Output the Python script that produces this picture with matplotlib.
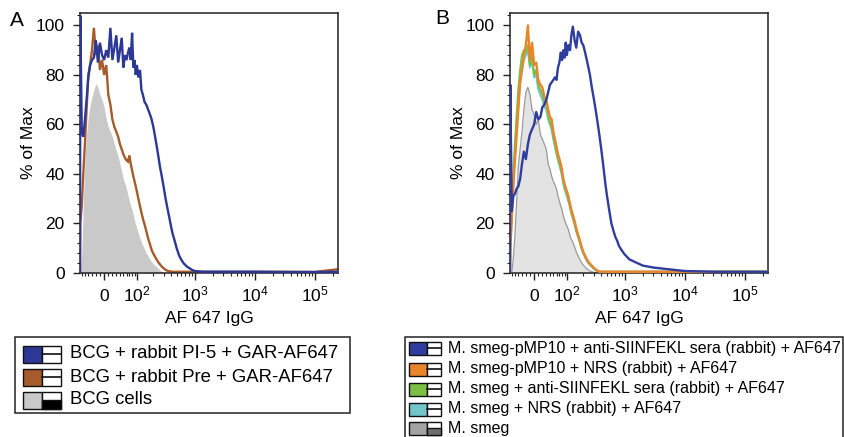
import numpy as np
import matplotlib
matplotlib.use("Agg")
import matplotlib.pyplot as plt
from matplotlib.patches import Rectangle
from matplotlib.lines import Line2D
from matplotlib.ticker import MultipleLocator

plt.rcParams['font.family'] = ['Liberation Sans', 'DejaVu Sans']
plt.rcParams['mathtext.fontset'] = 'custom'
plt.rcParams['mathtext.rm'] = 'Liberation Sans'
plt.rcParams['mathtext.it'] = 'Liberation Sans:italic'
plt.rcParams['mathtext.bf'] = 'Liberation Sans:bold'

# ---------------- data (AF647 fluorescence bins, % of Max) ----------------
fluor = [-66, -65, -60, -55, -50, -45, -40, -35, -30, -25,
         -20, -15, -10, -5, 0, 5, 10, 15, 20, 25,
         30, 35, 40, 45, 50, 55, 60, 65, 70, 75,
         80, 85, 90, 95, 100, 107, 115, 122, 130, 140,
         150, 162, 175, 187, 200, 215, 230, 245, 260, 280,
         300, 325, 350, 375, 400, 425, 450, 475, 500, 550,
         600, 650, 700, 750, 800, 900, 1000, 1200, 1500, 2000,
         3000, 5000, 10000, 30000, 100000, 240000]

# Panel A
a_pi5 = [0, 104, 57, 55, 62, 70, 79, 84, 86, 87,
         94, 85, 93, 88, 86, 90, 87, 99, 86, 91,
         96, 85, 90, 95, 83, 88, 86, 89, 91, 86,
         97, 83, 86, 80, 84, 79, 82, 74, 72, 69,
         68, 66, 64, 62, 59, 55, 51, 47, 43, 39,
         35, 30, 26, 22.5, 19, 16, 14, 12, 10, 7,
         5.3, 4, 3.2, 2.5, 2.1, 1.3, 0.8, 0.6, 0.5, 0.5,
         0.5, 0.5, 0.5, 0.4, 0.4, 0.5]
a_pre = [0, 20, 27, 40, 52, 66, 80, 84, 90, 99,
         88, 92, 82, 86, 80, 84, 72, 68, 62, 59,
         57, 55, 52, 50, 48, 46.5, 45.5, 45, 47.5, 44,
         41.5, 39, 37, 35, 33, 30, 27, 24.5, 22, 19.5,
         17, 14, 11.5, 9.3, 7.8, 6.5, 5.3, 4.3, 3.5, 2.6,
         1.9, 1.3, 0.9, 0.7, 0.6, 0.5, 0.5, 0.5, 0.5, 0.5,
         0.5, 0.5, 0.5, 0.5, 0.5, 0.5, 0.5, 0.5, 0.5, 0.5,
         0.5, 0.5, 0.5, 0.5, 0.4, 1.5]
a_cells = [0, 0, 8, 28, 45, 56, 63, 68, 71, 74,
           76.5, 75, 72, 70, 67, 62, 59, 57, 55, 52,
           49.5, 47, 44, 41, 38, 36, 34, 31.5, 29, 27,
           25.5, 23.5, 21, 19.5, 18, 16, 14, 12.5, 11, 9.5,
           8, 6.8, 5.5, 4.5, 3.6, 2.9, 2.4, 1.8, 1.2, 0.6,
           0.3, 0.1, 0, 0, 0, 0, 0, 0, 0, 0,
           0, 0, 0, 0, 0, 0, 0, 0, 0, 0,
           0, 0, 0, 0, 0, 0]

# Panel B
b_pmp10_anti = [0, 76, 25, 31, 32, 34, 35, 38, 44, 49,
                46, 52, 56, 58, 60, 65, 62, 63, 67, 68,
                70, 73, 76, 77, 78, 79, 78, 83, 85, 89,
                86, 90, 87, 93, 88, 92, 90, 96, 99.5, 94,
                91, 97.5, 96, 93, 92, 89, 86, 83, 80, 75,
                71, 66, 61, 56, 51, 46, 41, 36, 32, 25.5,
                20, 17, 14.5, 13, 11, 9, 7.5, 5.5, 4.4, 3,
                2.2, 1.6, 0.8, 0.5, 0.5, 0.5]
b_pmp10_nrs = [0, 10, 22, 35, 45, 55, 66, 77, 82, 88,
               92, 100, 86, 93, 84, 85, 78, 76, 75, 71,
               70, 66, 63, 62, 57, 54, 51, 48, 46, 44,
               41.5, 38, 36, 34.5, 33, 31, 28, 25.5, 23.5, 21,
               18, 15.5, 13, 10.5, 8.5, 7, 5.5, 4.5, 3.8, 3,
               2.2, 1.5, 0.9, 0.6, 0.5, 0.5, 0.5, 0.5, 0.5, 0.5,
               0.5, 0.5, 0.5, 0.5, 0.5, 0.5, 0.5, 0.5, 0.5, 0.5,
               0.5, 0.5, 0.5, 0.5, 0.5, 0.5]
b_smeg_anti = [0, 12, 26, 40, 52, 63, 74, 82, 88, 90,
               89, 92, 84, 88, 80, 82, 76, 74, 72, 69,
               68, 64, 61, 59, 55, 52, 49, 46.5, 44.5, 42.5,
               40, 37, 35, 33.5, 32, 30, 27, 24.5, 22.5, 20,
               17.2, 14.8, 12.4, 10, 8, 6.6, 5.2, 4.2, 3.5, 2.7,
               2, 1.3, 0.8, 0.6, 0.5, 0.5, 0.5, 0.5, 0.5, 0.5,
               0.5, 0.5, 0.5, 0.5, 0.5, 0.5, 0.5, 0.5, 0.5, 0.5,
               0.5, 0.5, 0.5, 0.5, 0.5, 0.5]
b_smeg_nrs = [0, 10, 22, 36, 48, 58, 68, 77, 82, 86,
              88, 90, 83, 86, 79, 80, 74, 72, 70, 67,
              66, 62, 60, 58, 54, 51, 48, 45.5, 43.5, 41.5,
              39, 36, 34, 32.5, 31, 29, 26.5, 24, 22, 19.5,
              16.8, 14.4, 12, 9.7, 7.8, 6.4, 5, 4, 3.3, 2.5,
              1.9, 1.2, 0.8, 0.6, 0.5, 0.5, 0.5, 0.5, 0.5, 0.5,
              0.5, 0.5, 0.5, 0.5, 0.5, 0.5, 0.5, 0.5, 0.5, 0.5,
              0.5, 0.5, 0.5, 0.5, 0.5, 0.5]
b_smeg = [0, 0, 0, 6, 15, 28, 43, 50, 57, 66,
          73, 75, 72, 66, 64, 60, 62, 56, 54, 52,
          50, 44, 42, 39, 37, 35.5, 34, 31, 29, 27,
          25.5, 23, 21.5, 20, 19, 17.5, 15, 13.5, 12.5, 10.5,
          8.5, 6.8, 5.3, 4.2, 3.2, 2.4, 1.7, 1.2, 0.8, 0.5,
          0.3, 0.2, 0.1, 0.1, 0.1, 0.1, 0.1, 0.1, 0.1, 0.1,
          0.1, 0.1, 0.1, 0.1, 0.1, 0.1, 0.1, 0.1, 0.1, 0.1,
          0.1, 0.1, 0.1, 0.1, 0.1, 0.3]

for s in (a_pi5, a_pre, a_cells, b_pmp10_anti, b_pmp10_nrs, b_smeg_anti, b_smeg_nrs, b_smeg):
    assert len(s) == len(fluor)

x_major = [0, 1e2, 1e3, 1e4, 1e5]
x_major_labels = ['0', '$10^2$', '$10^3$', '$10^4$', '$10^5$']
x_minor = ([-60, -50, -40, -30, -20, -10, 10, 20, 30, 40, 50, 60, 70, 80, 90]
           + [200, 300, 400, 500, 600, 700, 800, 900]
           + [2000, 3000, 4000, 5000, 6000, 7000, 8000, 9000]
           + [20000, 30000, 40000, 50000, 60000, 70000, 80000, 90000, 200000])
y_major = [0, 20, 40, 60, 80, 100]

labels_a = ['BCG + rabbit PI-5 + GAR-AF647', 'BCG + rabbit Pre + GAR-AF647', 'BCG cells']
colors_a = ['#2c3896', '#a85b2a', '#c9c9c9']
filled_a = [False, False, True]

labels_b = ['M. smeg-pMP10 + anti-SIINFEKL sera (rabbit) + AF647',
            'M. smeg-pMP10 + NRS (rabbit) + AF647',
            'M. smeg + anti-SIINFEKL sera (rabbit) + AF647',
            'M. smeg + NRS (rabbit) + AF647',
            'M. smeg']
colors_b = ['#2f3d9e', '#ea852c', '#7cbf45', '#72c6cb', '#a3a3a3']
filled_b = [False, False, False, False, True]

# ---------------- figure ----------------
W, H = 844, 437
fig = plt.figure(figsize=(W / 100, H / 100), dpi=100)


def rect(l, t, r, b):
    return [l / W, 1 - b / H, (r - l) / W, (b - t) / H]


COF = 62.0


def fwd(x):
    return np.arcsinh(np.asarray(x, dtype=float) / COF)


def inv(u):
    return COF * np.sinh(np.asarray(u, dtype=float))


def setup(ax):
    ax.set_xscale('function', functions=(fwd, inv))
    ax.set_xlim(-66, 245000)
    ax.set_ylim(0, 105)
    ax.set_xticks(x_major)
    ax.set_xticklabels(x_major_labels)
    ax.set_xticks(x_minor, minor=True)
    ax.set_yticks(y_major)
    ax.yaxis.set_minor_locator(MultipleLocator(4))
    ax.tick_params(which='major', direction='out', length=5, width=1.0,
                   labelsize=12.5, color='#222222')
    ax.tick_params(which='minor', direction='out', length=2.5, width=0.8, color='#222222')
    ax.tick_params(axis='x', which='major', pad=15.5)
    ax.tick_params(axis='y', which='major', pad=6)
    for lab in ax.get_xticklabels():
        lab.set_verticalalignment('baseline')
    ax.set_xlabel('AF 647 IgG', fontsize=12.5, labelpad=5)
    ax.set_ylabel('% of Max', fontsize=12.5, labelpad=0)
    for sp in ax.spines.values():
        sp.set_linewidth(1.1)
        sp.set_color('#222222')


axA = fig.add_axes(rect(80, 13, 338, 273))
setup(axA)
axA.fill_between(fluor, a_cells, 0, color=colors_a[2], lw=0, zorder=1)
axA.plot(fluor, a_pre, color=colors_a[1], lw=1.7, zorder=2, solid_joinstyle='miter')
axA.plot(fluor, a_pi5, color=colors_a[0], lw=1.7, zorder=3, solid_joinstyle='miter')

axB = fig.add_axes(rect(510, 13, 768, 273))
setup(axB)
axB.fill_between(fluor, b_smeg, 0, color='#e3e3e3', lw=0, zorder=1)
axB.plot(fluor, b_smeg, color='#9a9a9a', lw=0.9, zorder=2)
axB.plot(fluor, b_smeg_nrs, color=colors_b[3], lw=1.5, zorder=3)
axB.plot(fluor, b_smeg_anti, color=colors_b[2], lw=1.5, zorder=4)
axB.plot(fluor, b_pmp10_nrs, color=colors_b[1], lw=1.7, zorder=5)
axB.plot(fluor, b_pmp10_anti, color=colors_b[0], lw=1.7, zorder=6)

fig.text(17 / W, 1 - 21 / H, 'A', fontsize=15, ha='center', va='center')
fig.text(442 / W, 1 - 19 / H, 'B', fontsize=15, ha='center', va='center')


# ---------------- legends (FlowJo style) ----------------
def fig_rect(x0, y0, x1, y1, **kw):
    r = Rectangle((x0 / W, 1 - y1 / H), (x1 - x0) / W, (y1 - y0) / H,
                  transform=fig.transFigure, **kw)
    fig.add_artist(r)


def fig_line(x0, y0, x1, y1, **kw):
    fig.add_artist(Line2D([x0 / W, x1 / W], [1 - y0 / H, 1 - y1 / H],
                          transform=fig.transFigure, **kw))


def legend(box, rows, sw_x, sw_w, ic_w, sw_h, text_x, labels, colors, filled, fsize,
           fill_dark):
    fig_rect(*box, fill=False, ec='#222222', lw=1.1)
    for yc, lab, col, fl in zip(rows, labels, colors, filled):
        y0, y1 = yc - sw_h / 2, yc + sw_h / 2
        fig_rect(sw_x, y0, sw_x + sw_w, y1, fc=col, ec='#111111', lw=1.0)
        ix0, ix1 = sw_x + sw_w, sw_x + sw_w + ic_w
        fig_rect(ix0, y0, ix1, y1, fc='white', ec='#111111', lw=1.0)
        if fl:
            fig_rect(ix0, yc, ix1, y1, fc=fill_dark, ec='#111111', lw=1.0)
        else:
            fig_line(ix0, yc, ix1, yc, color='#111111', lw=1.2)
        fig.text(text_x / W, 1 - yc / H, lab, fontsize=fsize, ha='left', va='center')


legend((15, 337, 350, 413), [354, 377, 400], 23, 19, 19, 17, 70,
       labels_a, colors_a, filled_a, 13.3, '#000000')
legend((405, 337, 843, 447), [348, 369, 389, 409, 428], 409, 18, 14, 13, 448,
       labels_b, colors_b, filled_b, 11.5, '#6e6e6e')

fig.savefig('out.png', dpi=100)
